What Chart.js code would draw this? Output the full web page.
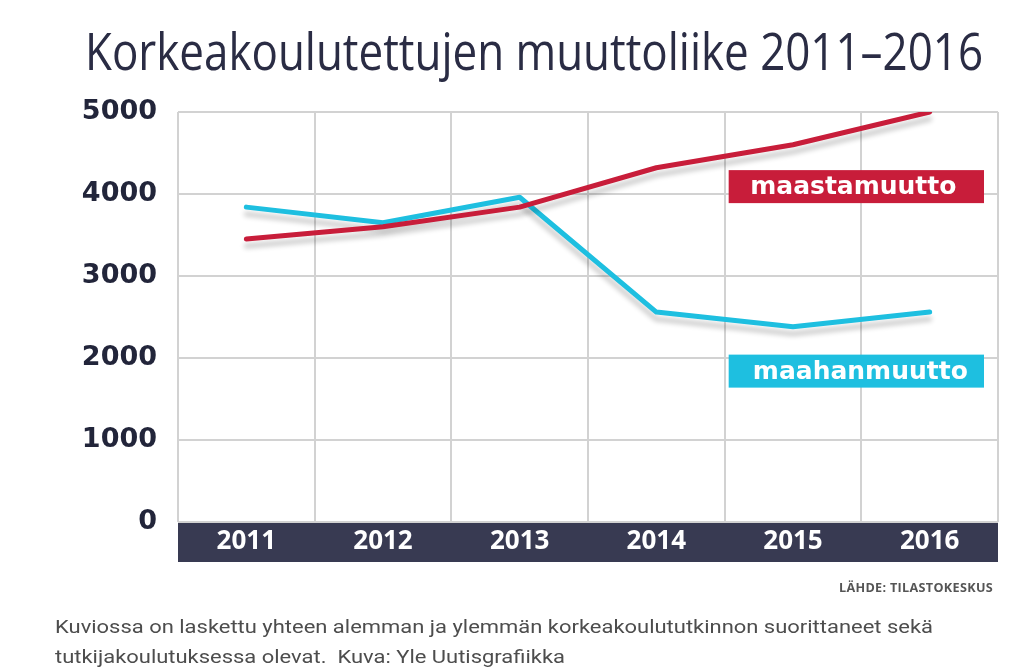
<!DOCTYPE html>
<html>
<head>
<meta charset="utf-8">
<script src="https://cdn.jsdelivr.net/npm/chart.js"></script>
<style>
  html, body { margin: 0; padding: 0; background: #fff; }
  #wrap { position: relative; width: 1024px; height: 671px; overflow: hidden; }
  #chart { position: absolute; left: 0; top: 0; }
  .txt { position: absolute; white-space: nowrap; transform-origin: left top; }
  #title { left: 85px; top: 25px; font: 400 51px "Open Sans", sans-serif; line-height: 51px; color: #2a2c44; }
  #source { top: 582px; font: 700 12px "Open Sans", sans-serif; line-height: 12px; color: #555; letter-spacing: 0.3px; }
  .caption { left: 55px; font: 400 18px Roboto, sans-serif; line-height: 30px; color: #4d4d4d; }
</style>
</head>
<body>
<div id="wrap">
  <canvas id="chart" width="1024" height="671"></canvas>
  <div class="txt" id="title">Korkeakoulutettujen muuttoliike 2011–2016</div>
  <div class="txt" id="source">LÄHDE: TILASTOKESKUS</div>
  <div class="txt caption" id="cap1" style="top:612px">Kuviossa on laskettu yhteen alemman ja ylemmän korkeakoulututkinnon suorittaneet sekä</div>
  <div class="txt caption" id="cap2" style="top:642px">tutkijakoulutuksessa olevat.&nbsp; Kuva: Yle Uutisgrafiikka</div>
</div>
<script>
// data
const years = ['2011', '2012', '2013', '2014', '2015', '2016'];
const maastamuutto = [3450, 3600, 3840, 4320, 4600, 5000];
const maahanmuutto = [3840, 3650, 3960, 2560, 2380, 2560];
const yTicks = [0, 1000, 2000, 3000, 4000, 5000];

const RED = '#c81d3a';
const CYAN = '#1ebfe0';
const BAND = '#383a52';

// squeeze a text block to a given width (fonts differ from the original)
function fitWidth(id, target, left) {
    const el = document.getElementById(id);
    const w = el.getBoundingClientRect().width;
    el.style.transform = 'scaleX(' + (target / w) + ')';
    if (left !== undefined) el.style.left = left + 'px';
    return target / w;
}
fitWidth('title', 898);
const capScale = fitWidth('cap1', 878);
document.getElementById('cap2').style.transform = 'scaleX(' + capScale + ')';
const src = document.getElementById('source');
fitWidth('source', 154, 839);

// dark band behind the year labels
const bandPlugin = {
    id: 'band',
    beforeDraw(chart) {
        const { ctx, chartArea } = chart;
        const x = chart.scales.x;
        ctx.save();
        ctx.fillStyle = BAND;
        ctx.fillRect(chartArea.left, chartArea.bottom, chartArea.right - chartArea.left, x.bottom - chartArea.bottom);
        ctx.restore();
    }
};

// soft grey shadow under the lines
const shadowPlugin = {
    id: 'lineShadow',
    beforeDatasetsDraw(chart) {
        const ctx = chart.ctx;
        ctx.save();
        ctx.shadowColor = 'rgba(0, 0, 0, 0.2)';
        ctx.shadowOffsetX = 0;
        ctx.shadowOffsetY = 7;
        ctx.shadowBlur = 5;
    },
    afterDatasetsDraw(chart) {
        chart.ctx.restore();
    }
};

// coloured name boxes at the right
const nameBoxPlugin = {
    id: 'nameBoxes',
    afterDatasetsDraw(chart, args, opts) {
        const { ctx, chartArea } = chart;
        const xs = chart.scales.x, ys = chart.scales.y;
        const slot = xs.getPixelForValue(1) - xs.getPixelForValue(0);
        const left = xs.getPixelForValue(4) - slot / 2 + 4;
        const right = chartArea.right - 14;
        opts.boxes.forEach(b => {
            const ds = chart.data.datasets[b.dataset];
            const cy = ys.getPixelForValue(b.at);
            const h = 33;
            ctx.save();
            ctx.fillStyle = ds.borderColor;
            ctx.fillRect(left, cy - h / 2, right - left, h);
            ctx.fillStyle = '#fff';
            ctx.font = 'bold 25px "DejaVu Sans", sans-serif';
            ctx.textAlign = 'center';
            ctx.textBaseline = 'middle';
            ctx.fillText(ds.label, (left + right) / 2 + b.dx, cy + 1);
            ctx.restore();
        });
    }
};

new Chart(document.getElementById('chart'), {
    type: 'line',
    data: {
        labels: years,
        datasets: [
            { label: 'maastamuutto', data: maastamuutto, borderColor: RED, backgroundColor: RED },
            { label: 'maahanmuutto', data: maahanmuutto, borderColor: CYAN, backgroundColor: CYAN }
        ]
    },
    options: {
        responsive: false,
        animation: false,
        devicePixelRatio: 1,
        layout: { padding: { left: 0, right: 26, top: 112, bottom: 109 } },
        elements: {
            line: { borderWidth: 5, tension: 0, borderCapStyle: 'round', borderJoinStyle: 'round' },
            point: { radius: 0, hoverRadius: 0 }
        },
        plugins: {
            legend: { display: false },
            tooltip: { enabled: false },
            nameBoxes: {
                boxes: [
                    { dataset: 0, at: 4090, dx: -3 },
                    { dataset: 1, at: 1840, dx: 4 }
                ]
            }
        },
        scales: {
            x: {
                type: 'category',
                offset: true,
                afterFit: s => { s.height = 40; },
                grid: { offset: true, color: '#d2d2d2', lineWidth: 2, drawTicks: false },
                border: { display: false },
                ticks: {
                    color: '#ffffff',
                    padding: 4,
                    font: { family: '"Open Sans", sans-serif', size: 26, weight: 'bold' }
                }
            },
            y: {
                min: 0,
                max: 5000,
                afterFit: s => { s.width = 178; },
                afterBuildTicks: s => { s.ticks = yTicks.map(v => ({ value: v })); },
                grid: { color: '#d2d2d2', lineWidth: 2, drawTicks: false },
                border: { display: false },
                ticks: {
                    color: '#22253a',
                    padding: 21,
                    font: { family: '"DejaVu Sans", sans-serif', size: 27, weight: 'bold' },
                    callback: v => String(v)
                }
            }
        }
    },
    plugins: [bandPlugin, shadowPlugin, nameBoxPlugin]
});
</script>
</body>
</html>
